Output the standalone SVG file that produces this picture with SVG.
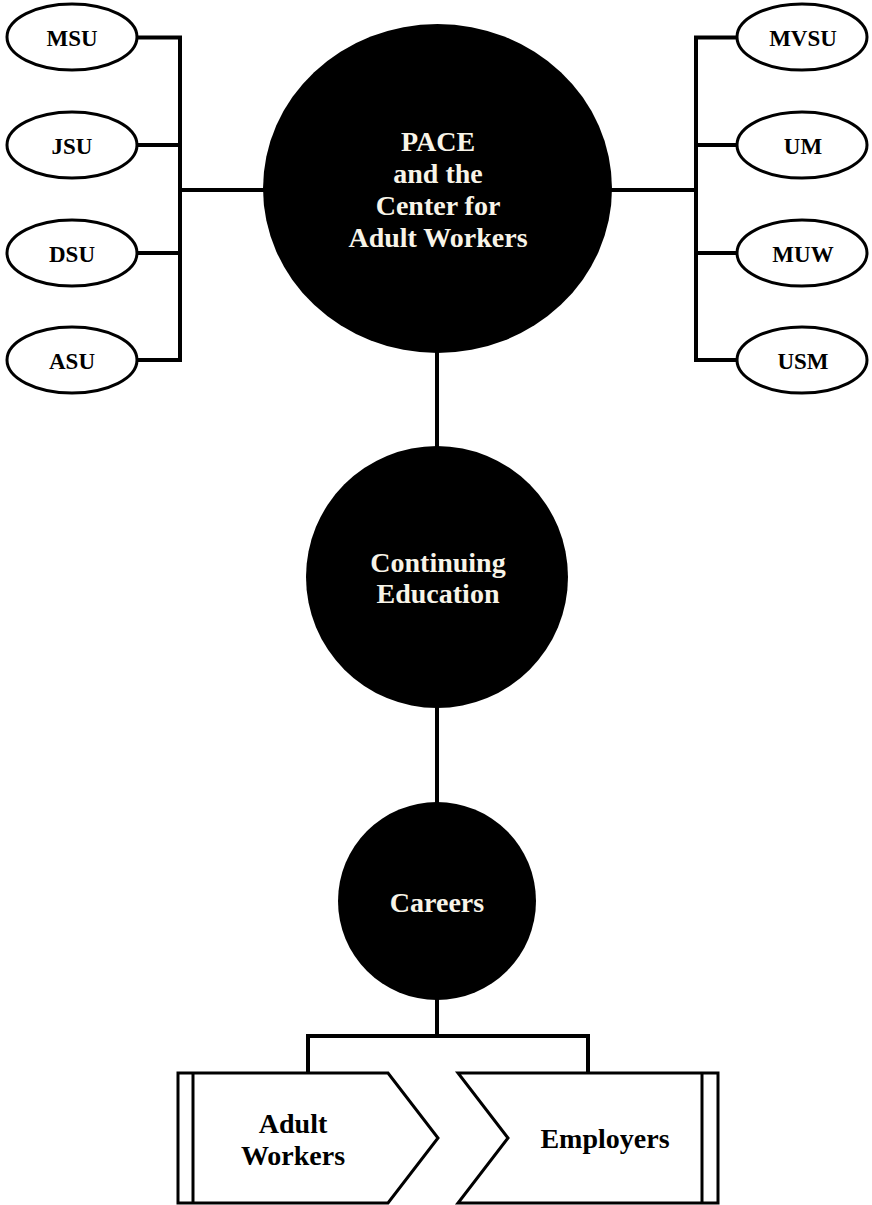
<svg xmlns="http://www.w3.org/2000/svg" width="872" height="1205" viewBox="0 0 872 1205">
<style>
.lbl{font-family:"Liberation Serif","Times New Roman",serif;font-weight:bold;font-size:23px;fill:#000;text-anchor:middle}
.big{font-family:"Liberation Serif","Times New Roman",serif;font-weight:bold;font-size:28px;fill:#f8f4e8;text-anchor:middle}
.box{font-family:"Liberation Serif","Times New Roman",serif;font-weight:bold;font-size:28px;fill:#000;text-anchor:middle}
.oval{fill:#fff;stroke:#000;stroke-width:3}
.disc{fill:#000}
.shape{fill:#fff;stroke:#000;stroke-width:3;stroke-linejoin:miter}
.conn{fill:none;stroke:#000;stroke-width:4;stroke-linejoin:miter;stroke-linecap:square}
</style>
<rect width="872" height="1205" fill="#fff"/>
<g id="connectors">
<path class="conn" d="M137 37.5 H180 M137 145 H180 M137 253 H180 M137 360 H180 M180 37.5 V360 M180 190 H264"/>
<path class="conn" d="M738 37.5 H696 M738 145 H696 M738 253 H696 M738 360 H696 M696 37.5 V360 M696 190 H611"/>
<path class="conn" d="M437 352 V447 M437 707 V803 M437 999 V1036 M308 1036 H588 M308 1036 V1072 M588 1036 V1072"/>
</g>
<g id="msu"><ellipse class="oval" cx="72" cy="37" rx="65" ry="33"/><text class="lbl" x="72" y="46">MSU</text></g>
<g id="jsu"><ellipse class="oval" cx="72" cy="145" rx="65" ry="33"/><text class="lbl" x="72" y="154">JSU</text></g>
<g id="dsu"><ellipse class="oval" cx="72" cy="253" rx="65" ry="33"/><text class="lbl" x="72" y="262">DSU</text></g>
<g id="asu"><ellipse class="oval" cx="72" cy="360" rx="65" ry="33"/><text class="lbl" x="72" y="369">ASU</text></g>
<g id="mvsu"><ellipse class="oval" cx="802" cy="37" rx="65" ry="33"/><text class="lbl" x="803" y="46">MVSU</text></g>
<g id="um"><ellipse class="oval" cx="802" cy="145" rx="65" ry="33"/><text class="lbl" x="803" y="154">UM</text></g>
<g id="muw"><ellipse class="oval" cx="802" cy="253" rx="65" ry="33"/><text class="lbl" x="803" y="262">MUW</text></g>
<g id="usm"><ellipse class="oval" cx="802" cy="360" rx="65" ry="33"/><text class="lbl" x="803" y="369">USM</text></g>
<g id="pace">
<ellipse class="disc" cx="437.5" cy="188.5" rx="174.5" ry="164.5"/>
<text class="big" x="438" y="151">PACE</text>
<text class="big" x="438" y="183">and the</text>
<text class="big" x="438" y="215">Center for</text>
<text class="big" x="438" y="247">Adult Workers</text>
</g>
<g id="continuing-education">
<circle class="disc" cx="437" cy="577" r="131"/>
<text class="big" x="438" y="572">Continuing</text>
<text class="big" x="438" y="603">Education</text>
</g>
<g id="careers">
<circle class="disc" cx="437" cy="901" r="99"/>
<text class="big" x="437" y="912">Careers</text>
</g>
<g id="adult-workers">
<polygon class="shape" points="178,1073 388,1073 438,1138 388,1203 178,1203"/>
<line x1="193" y1="1073" x2="193" y2="1203" stroke="#000" stroke-width="3"/>
<text class="box" x="293" y="1133">Adult</text>
<text class="box" x="293" y="1165">Workers</text>
</g>
<g id="employers">
<polygon class="shape" points="458,1073 718,1073 718,1203 458,1203 508,1138"/>
<line x1="702" y1="1073" x2="702" y2="1203" stroke="#000" stroke-width="3"/>
<text class="box" x="605" y="1148">Employers</text>
</g>
</svg>
